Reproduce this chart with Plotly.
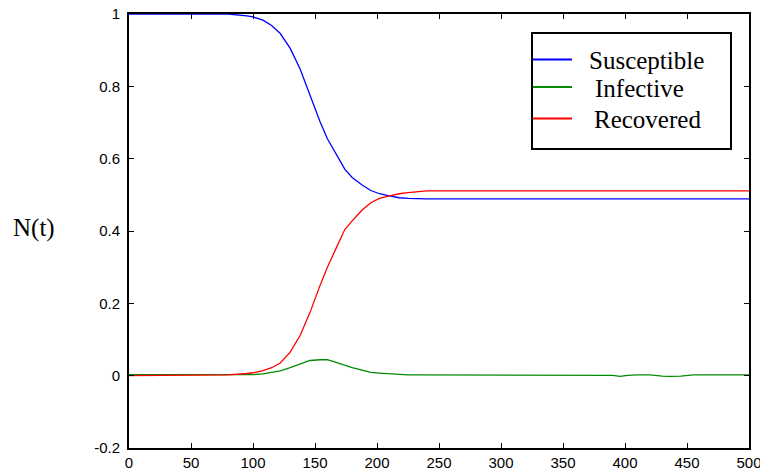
import plotly.graph_objects as go

# ---- data ----
t = [0, 80, 95, 100, 108, 115, 122, 130, 138, 146, 154, 160, 167, 174, 180, 188,
     195, 202, 210, 218, 225, 232, 240, 260, 300, 350, 380, 390, 396, 402, 410,
     420, 430, 436, 445, 455, 470, 500]
susceptible = [1.0, 1.0, 0.995, 0.992, 0.983, 0.968, 0.946, 0.905, 0.848, 0.776,
               0.703, 0.655, 0.612, 0.571, 0.548, 0.527, 0.512, 0.503, 0.497, 0.492,
               0.490, 0.489, 0.489, 0.489, 0.489, 0.489, 0.489, 0.489, 0.489, 0.489,
               0.489, 0.489, 0.489, 0.489, 0.489, 0.489, 0.489, 0.489]
infective = [0.003, 0.002, 0.002, 0.003, 0.005, 0.008, 0.013, 0.022, 0.033, 0.042,
             0.044, 0.044, 0.037, 0.028, 0.022, 0.015, 0.009, 0.007, 0.005, 0.002,
             0.002, 0.002, 0.002, 0.002, 0.002, 0.002, 0.002, 0.001, -0.002, 0.001,
             0.002, 0.002, -0.001, -0.002, -0.001, 0.002, 0.002, 0.002]
recovered = [0.0, 0.002, 0.006, 0.008, 0.014, 0.022, 0.035, 0.065, 0.111, 0.175,
             0.249, 0.300, 0.352, 0.404, 0.428, 0.458, 0.478, 0.490, 0.497, 0.503,
             0.506, 0.508, 0.511, 0.511, 0.511, 0.511, 0.511, 0.511, 0.511, 0.511,
             0.511, 0.511, 0.511, 0.511, 0.511, 0.511, 0.511, 0.511]
series_names = ["Susceptible", "Infective", "Recovered"]
series_colors = ["#0000ff", "#008c00", "#ff0000"]
x_ticks = [0, 50, 100, 150, 200, 250, 300, 350, 400, 450, 500]
y_ticks = [-0.2, 0, 0.2, 0.4, 0.6, 0.8, 1]
y_tick_text = ["-0.2", "0", "0.2", "0.4", "0.6", "0.8", "1"]

# ---- layout constants (pixels) ----
W, H = 760, 472
L, R, T, B = 129, 11, 14, 24
PW, PH = W - L - R, H - T - B


def px(xp):
    return (xp - L) / PW


def py(yp):
    return (H - B - yp) / PH


fig = go.Figure()
for name, vals, col in zip(series_names, [susceptible, infective, recovered], series_colors):
    fig.add_trace(go.Scatter(x=t, y=vals, mode="lines", name=name,
                             line=dict(color=col, width=1.3), showlegend=False))

axis_common = dict(showline=True, linecolor="black", linewidth=2, mirror="ticks",
                   ticks="inside", ticklen=5, tickcolor="black", tickwidth=1,
                   showgrid=False, zeroline=False, automargin=False,
                   ticklabeloverflow="allow",
                   tickfont=dict(family="Liberation Sans, Arial", size=15, color="black"))

fig.update_xaxes(range=[0, 500], tickvals=x_ticks, **axis_common)
fig.update_yaxes(range=[-0.2, 1], tickvals=y_ticks, ticktext=y_tick_text,
                 ticklabelstandoff=4, **axis_common)

# legend box drawn manually
box_l, box_r, box_t, box_b = 532, 731, 33, 149
shapes = [dict(type="rect", xref="paper", yref="paper",
               x0=px(box_l), x1=px(box_r), y0=py(box_b), y1=py(box_t),
               line=dict(color="black", width=2), fillcolor="white", layer="above")]
row_y = [59.5, 87, 118.5]
text_x = [587, 593, 592]
annotations = []
for i, (name, col) in enumerate(zip(series_names, series_colors)):
    shapes.append(dict(type="line", xref="paper", yref="paper",
                       x0=px(box_l + 1), x1=px(572), y0=py(row_y[i]), y1=py(row_y[i]),
                       line=dict(color=col, width=2), layer="above"))
    annotations.append(dict(xref="paper", yref="paper", x=px(text_x[i]), y=py(row_y[i] + 1),
                            text=name, showarrow=False, xanchor="left", yanchor="middle",
                            font=dict(family="Liberation Serif, Times New Roman", size=25,
                                      color="black")))

annotations.append(dict(xref="paper", yref="paper", x=px(11), y=py(228),
                        text="N(t)", showarrow=False, xanchor="left", yanchor="middle",
                        font=dict(family="Liberation Serif, Times New Roman", size=25,
                                  color="black")))

fig.update_layout(width=W, height=H, margin=dict(l=L, r=R, t=T, b=B, autoexpand=False),
                  paper_bgcolor="white", plot_bgcolor="white",
                  shapes=shapes, annotations=annotations, showlegend=False)

fig.write_html("out.html")
